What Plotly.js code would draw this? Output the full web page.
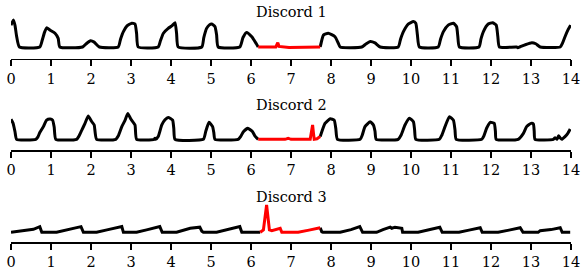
<!DOCTYPE html>
<html>
<head>
<meta charset="utf-8">
<script src="https://cdn.plot.ly/plotly-3.0.1.min.js"></script>
<style>html,body{margin:0;padding:0;background:#fff;}#chart{width:581px;height:276px;}</style>
</head>
<body>
<div id="chart"></div>
<script>
// ---- Data ----
const titles = ["Discord 1", "Discord 2", "Discord 3"];
const tickValues = [0,1,2,3,4,5,6,7,8,9,10,11,12,13,14];

const s1x = [0.00,0.06,0.10,0.14,0.21,0.72,0.78,0.84,0.89,0.98,1.10,1.18,1.22,1.79,1.88,1.99,2.08,2.21,2.68,2.74,2.81,2.90,3.02,3.10,3.14,3.18,3.68,3.74,3.81,3.93,4.02,4.10,4.14,4.18,4.77,4.82,4.89,4.96,5.02,5.10,5.14,5.18,5.72,5.80,5.89,6.02,6.10,6.18,6.62,6.67,6.70,6.95,7.73,7.77,7.81,7.93,8.10,8.18,8.23,8.77,8.88,8.98,9.10,9.23,9.68,9.74,9.81,9.93,10.06,10.12,10.16,10.21,10.68,10.74,10.81,10.93,11.06,11.14,11.17,11.21,11.70,11.75,11.81,11.93,12.04,12.13,12.17,12.21,12.64,12.67,12.72,12.85,13.02,13.12,13.23,13.73,13.79,13.85,13.93,13.99];
const s1y = [0.81,1.00,0.80,0.40,0.00,0.00,0.25,0.55,0.71,0.62,0.51,0.32,0.00,0.00,0.12,0.23,0.18,0.00,0.00,0.30,0.57,0.78,0.88,0.85,0.50,0.00,0.00,0.25,0.51,0.69,0.78,0.90,0.50,0.00,0.00,0.35,0.69,0.82,0.85,0.75,0.45,0.00,0.00,0.35,0.54,0.38,0.20,0.00,0.00,0.16,0.02,-0.02,0.00,0.25,0.44,0.51,0.38,0.15,0.00,0.00,0.12,0.20,0.15,0.00,0.00,0.30,0.57,0.85,0.94,0.88,0.45,0.00,0.00,0.30,0.57,0.81,0.88,0.75,0.40,0.00,0.00,0.30,0.57,0.85,0.90,0.81,0.40,0.00,0.00,-0.03,0.00,0.08,0.16,0.12,0.00,0.00,0.15,0.38,0.65,0.81];

const s2x = [0.00,0.05,0.10,0.14,0.62,0.67,0.72,0.81,0.89,0.98,1.04,1.08,1.12,1.64,1.70,1.77,1.85,1.93,2.02,2.08,2.14,2.62,2.68,2.77,2.85,2.92,3.00,3.10,3.14,3.58,3.60,3.62,3.68,3.77,3.85,3.93,4.04,4.07,4.10,4.81,4.87,4.95,5.04,5.07,5.10,5.68,5.74,5.81,5.92,6.04,6.10,6.18,6.85,6.93,7.00,7.48,7.51,7.54,7.56,7.58,7.65,7.73,7.85,7.98,8.08,8.12,8.16,8.73,8.78,8.85,8.98,9.06,9.10,9.13,9.68,9.75,9.85,9.96,10.06,10.09,10.12,10.71,10.77,10.85,10.96,11.06,11.10,11.13,11.77,11.82,11.89,11.98,12.08,12.11,12.13,12.68,12.81,12.89,13.00,13.06,13.08,13.10,13.56,13.60,13.65,13.69,13.73,13.77,13.85,13.92,13.98];
const s2y = [0.74,0.60,0.28,0.00,0.00,0.08,0.25,0.47,0.71,0.75,0.71,0.45,0.00,0.00,0.12,0.34,0.59,0.86,0.65,0.53,0.00,0.00,0.12,0.47,0.70,0.96,0.74,0.53,0.00,0.00,0.04,0.00,0.10,0.53,0.72,0.81,0.71,0.40,0.00,0.00,0.30,0.63,0.47,0.25,0.00,0.00,0.10,0.28,0.41,0.28,0.12,0.00,0.00,0.04,0.00,0.00,0.30,0.53,0.25,0.00,0.02,0.10,0.59,0.76,0.71,0.40,0.00,0.00,0.15,0.47,0.65,0.53,0.30,0.00,0.00,0.15,0.53,0.78,0.65,0.35,0.00,0.00,0.15,0.47,0.84,0.71,0.35,0.00,0.00,0.12,0.41,0.63,0.59,0.30,0.00,0.00,0.22,0.47,0.59,0.57,0.30,0.00,0.00,0.06,0.00,0.13,0.05,0.00,0.10,0.22,0.38];

const s3x = [0.00,0.14,0.30,0.56,0.72,0.77,1.14,1.40,1.64,1.75,1.81,2.14,2.40,2.68,2.77,2.81,3.14,3.39,3.72,3.78,4.14,4.48,4.72,4.77,4.81,5.14,5.56,5.72,5.77,6.23,6.31,6.39,6.46,6.52,6.73,6.77,7.18,7.45,7.68,7.73,7.77,7.80,8.23,8.50,8.72,8.79,9.14,9.30,9.48,9.52,9.60,9.77,9.79,10.18,10.45,10.72,10.78,11.20,11.45,11.73,11.78,12.18,12.45,12.73,12.80,13.18,13.23,13.50,13.73,13.78,13.98];
const s3y = [0.00,0.03,0.06,0.11,0.21,0.00,0.00,0.08,0.15,0.21,0.00,0.00,0.09,0.19,0.21,0.00,0.00,0.09,0.21,0.00,0.00,0.15,0.19,0.04,0.00,0.00,0.15,0.21,0.00,0.00,0.09,1.01,0.09,0.06,0.15,0.00,0.00,0.08,0.17,0.17,0.02,0.00,0.00,0.10,0.21,0.00,0.00,0.10,0.19,0.15,0.19,0.15,0.00,0.00,0.10,0.19,0.00,0.00,0.08,0.17,0.00,0.00,0.08,0.17,0.00,0.00,0.06,0.10,0.17,0.00,0.00];

const discordStart = [6.18, 6.18, 6.23];
const discordEnd   = [7.73, 7.73, 7.73];
const smooth = [0.5, 0.45, 0];

// ---- Build traces ----
const series = [[s1x,s1y],[s2x,s2y],[s3x,s3y]];
const traces = [];
series.forEach(([xs,ys],i) => {
  const sfx = i === 0 ? '' : String(i+1);
  const a = discordStart[i], b = discordEnd[i];
  const by = ys.map((v,k) => (xs[k] > a && xs[k] < b) ? null : v);
  const rx = [], ry = [];
  xs.forEach((v,k) => { if (v >= a && v <= b) { rx.push(v); ry.push(ys[k]); } });
  const shape = smooth[i] > 0 ? 'spline' : 'linear';
  traces.push({x: xs, y: by, xaxis: 'x'+sfx, yaxis: 'y'+sfx, mode: 'lines', connectgaps: false,
               line: {color: '#000000', width: 3, shape: shape, smoothing: smooth[i] || 1}, hoverinfo: 'skip', showlegend: false});
  traces.push({x: rx, y: ry, xaxis: 'x'+sfx, yaxis: 'y'+sfx, mode: 'lines',
               line: {color: '#ff0000', width: 3}, hoverinfo: 'skip', showlegend: false});
});

const font = 'DejaVu Serif, serif';
function xax(anchor) {
  return {anchor: anchor, domain: [0,1], range: [0,14], tickvals: tickValues, ticktext: tickValues.map(String),
          showline: true, linecolor: '#000', linewidth: 1.2, ticks: 'outside', ticklen: 6, tickwidth: 1.2,
          tickcolor: '#000', showgrid: false, zeroline: false, fixedrange: true, automargin: false,
          tickfont: {family: font, size: 14.5, color: '#000'}};
}
function yax(domain, range) {
  return {domain: domain, range: range, visible: false, showgrid: false, zeroline: false, fixedrange: true};
}

const layout = {
  width: 581, height: 276,
  margin: {l: 11, r: 10, t: 0, b: 0},
  paper_bgcolor: '#fff', plot_bgcolor: 'rgba(0,0,0,0)',
  showlegend: false,
  xaxis: xax('y'), xaxis2: xax('y2'), xaxis3: xax('y3'),
  yaxis: yax([1-59/276, 1-14/276], [-(59-47)/27, (47-14)/27]),
  yaxis2: yax([1-150.3/276, 1-104/276], [-(150.3-139.3)/27, (139.3-104)/27]),
  yaxis3: yax([1-242.3/276, 1-196/276], [-(242.3-232.3)/27, (232.3-196)/27]),
  annotations: titles.map((t,i) => ({
    text: t, xref: 'paper', yref: 'paper', x: 0.5, xanchor: 'center',
    y: 1 - [12.5, 104.5, 197][i]/276, yanchor: 'middle', showarrow: false,
    font: {family: font, size: 14.5, color: '#000'}
  }))
};

Plotly.newPlot('chart', traces, layout, {displayModeBar: false, staticPlot: true});
</script>
</body>
</html>
